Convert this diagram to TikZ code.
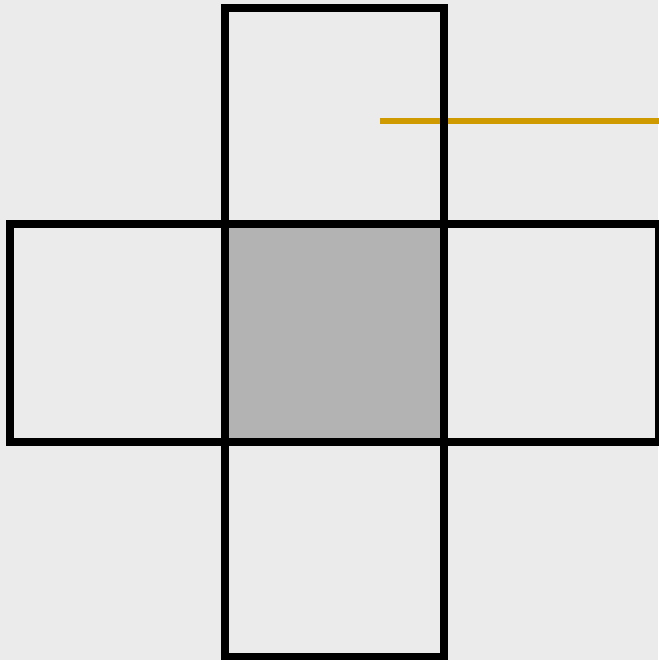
\documentclass[tikz,border=0pt]{standalone}
\usepackage{xcolor}
\usepackage{tikz}
\definecolor{bgcol}{HTML}{EBEBEB}
\definecolor{cellgray}{HTML}{B3B3B3}
\definecolor{ochre}{HTML}{CF9A00}

\begin{document}
\begin{tikzpicture}[
    x=1pt, y=-1pt,
    cell/.style={draw=black, line width=8pt, line join=miter},
    marker/.style={draw=ochre, line width=6pt}
]
    % Background
    \fill[bgcol] (0,0) rectangle (658,660);
    \useasboundingbox (0,0) rectangle (658,660);

    % Marker line
    \coordinate (mstart) at (380,121);
    \coordinate (mend) at (662,121);
    \draw[marker] (mstart) -- (mend);

    % Centre cell
    \fill[cellgray] (225,224) rectangle (444,442);

    % Cells of the cross
    \foreach \xa/\ya/\xb/\yb in {225/8/444/224, 10/224/225/442, 225/224/444/442, 444/224/659/442, 225/442/444/657}
        \draw[cell] (\xa,\ya) rectangle (\xb,\yb);
\end{tikzpicture}
\end{document}
